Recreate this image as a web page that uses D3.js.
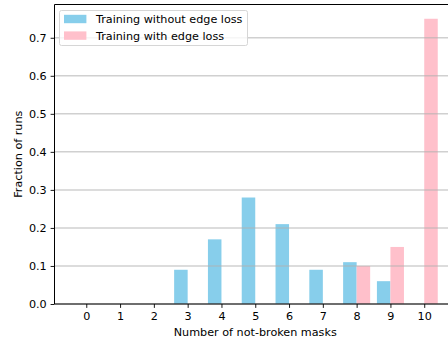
<!DOCTYPE html>
<html>
<head>
<meta charset="utf-8">
<script src="https://cdn.jsdelivr.net/npm/d3@7"></script>
<style>
  body { margin: 0; background: #fff; }
  text { font-family: "DejaVu Sans", sans-serif; fill: #000; }
</style>
</head>
<body>
<div id="chart"></div>
<script>
// masks counted 0..10
var categories = [0, 1, 2, 3, 4, 5, 6, 7, 8, 9, 10];
var withoutEdge = [0, 0, 0, 0.09, 0.17, 0.28, 0.21, 0.09, 0.11, 0.06, 0];
var withEdge = [0, 0, 0, 0, 0, 0, 0, 0, 0.10, 0.15, 0.75];
var yTicks = [0, 0.1, 0.2, 0.3, 0.4, 0.5, 0.6, 0.7];
var seriesNames = ["Training without edge loss", "Training with edge loss"];

var W = 448, H = 341;
var fs = 11.2;
// note: "top" is taken by window.top, so use plotTop
var plotLeft = 54.5, plotTop = 4.5, plotBottom = 304;

var svg = d3.select("#chart").append("svg")
    .attr("width", W)
    .attr("height", H);

var x = d3.scaleLinear().domain([-0.94, 10.94]).range([plotLeft, 456]);
var y = d3.scaleLinear().domain([0, 0.7875]).range([plotBottom, plotTop]);
var barW = 0.4;

// blue bars sit left of the tick, pink bars right of it
svg.selectAll("rect.noedge")
    .data(withoutEdge)
    .enter()
    .append("rect")
    .attr("class", "noedge")
    .attr("x", function (d, i) { return x(categories[i] - barW); })
    .attr("width", function () { return x(barW) - x(0); })
    .attr("y", function (d) { return y(d); })
    .attr("height", function (d) { return y(0) - y(d); })
    .style("fill", "#87ceeb");

svg.selectAll("rect.edge")
    .data(withEdge)
    .enter()
    .append("rect")
    .attr("class", "edge")
    .attr("x", function (d, i) { return x(categories[i]); })
    .attr("width", function () { return x(barW) - x(0); })
    .attr("y", function (d) { return y(d); })
    .attr("height", function (d) { return y(0) - y(d); })
    .style("fill", "#ffc0cb");

// grid lines drawn over the bars
svg.selectAll("line.grid")
    .data(yTicks)
    .enter()
    .append("line")
    .attr("class", "grid")
    .attr("x1", plotLeft)
    .attr("x2", W)
    .attr("y1", function (d) { return y(d); })
    .attr("y2", function (d) { return y(d); })
    .style("stroke", "#b0b0b0")
    .style("stroke-opacity", 0.6)
    .style("stroke-width", 1.5);

// axes
var xAxis = d3.axisBottom(x)
    .tickValues(categories)
    .tickFormat(d3.format("d"))
    .tickSizeInner(3.9)
    .tickSizeOuter(0)
    .tickPadding(3.9);

var yAxis = d3.axisLeft(y)
    .tickValues(yTicks)
    .tickFormat(d3.format(".1f"))
    .tickSizeInner(3.9)
    .tickSizeOuter(0)
    .tickPadding(3.9);

var gx = svg.append("g")
    .attr("transform", "translate(0," + plotBottom + ")")
    .call(xAxis);
var gy = svg.append("g")
    .attr("transform", "translate(" + plotLeft + ",0)")
    .call(yAxis);

[gx, gy].forEach(function (g) {
    g.selectAll("text")
        .style("font-size", fs + "px")
        .style("font-family", "DejaVu Sans, sans-serif")
        .attr("fill", "#000");
    g.selectAll("line").attr("stroke", "#000").attr("stroke-width", 0.9);
    g.select(".domain").remove();
});

// spines
svg.append("line")
    .attr("x1", plotLeft).attr("x2", plotLeft)
    .attr("y1", plotTop).attr("y2", plotBottom)
    .style("stroke", "#000").style("stroke-width", 1);
svg.append("line")
    .attr("x1", plotLeft).attr("x2", W)
    .attr("y1", plotBottom).attr("y2", plotBottom)
    .style("stroke", "#000").style("stroke-width", 1);
svg.append("line")
    .attr("x1", plotLeft).attr("x2", W)
    .attr("y1", plotTop).attr("y2", plotTop)
    .style("stroke", "#000").style("stroke-width", 1);

// axis titles
svg.append("text")
    .attr("x", x(5))
    .attr("y", 336)
    .attr("text-anchor", "middle")
    .style("font-size", fs + "px")
    .text("Number of not-broken masks");

svg.append("text")
    .attr("transform", "translate(22," + ((plotTop + plotBottom) / 2) + ") rotate(-90)")
    .attr("text-anchor", "middle")
    .style("font-size", fs + "px")
    .text("Fraction of runs");

// legend
var legend = svg.append("g").attr("transform", "translate(59.5,10.5)");
legend.append("rect")
    .attr("width", 188)
    .attr("height", 35)
    .attr("rx", 2)
    .style("fill", "#fff")
    .style("fill-opacity", 0.8)
    .style("stroke", "#d6d6d6")
    .style("stroke-width", 1);

var legendColors = ["#87ceeb", "#ffc0cb"];
legend.selectAll("rect.key")
    .data(seriesNames)
    .enter()
    .append("rect")
    .attr("class", "key")
    .attr("x", 4.5)
    .attr("y", function (d, i) { return 4.3 + i * 16.6; })
    .attr("width", 22.4)
    .attr("height", 8.4)
    .style("fill", function (d, i) { return legendColors[i]; });

legend.selectAll("text.key")
    .data(seriesNames)
    .enter()
    .append("text")
    .attr("class", "key")
    .attr("x", 36.5)
    .attr("y", function (d, i) { return 12.6 + i * 16.6; })
    .style("font-size", fs + "px")
    .text(function (d) { return d; });
</script>
</body>
</html>
